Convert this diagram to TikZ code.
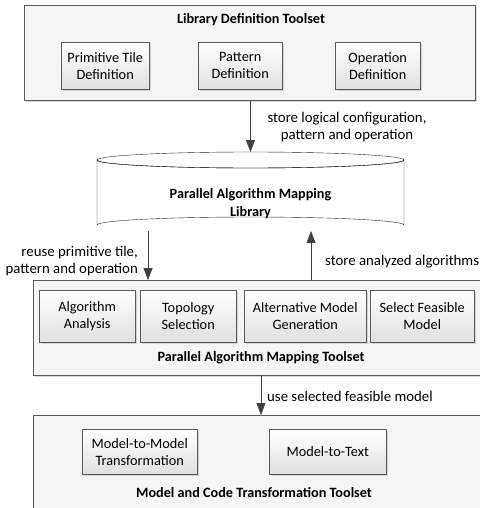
\documentclass[tikz,border=0pt]{standalone}
\usepackage{fontspec}
\setmainfont{Carlito}
\usetikzlibrary{positioning,shadows,arrows.meta}

\tikzset{
  toolset/.style={draw=black!65, fill=black!4, anchor=north west, inner sep=0pt,
    drop shadow={shadow xshift=1.5pt, shadow yshift=-1.5pt, fill=black!30}},
  toolbox/.style={draw=black!65, top color=white, bottom color=black!12, anchor=north west,
    inner sep=0pt, align=center, font=\fontsize{14.3}{17}\selectfont,
    drop shadow={shadow xshift=1.5pt, shadow yshift=-1.5pt, fill=black!30}},
  title/.style={font=\fontsize{14.2}{18}\selectfont\bfseries, align=center},
  note/.style={font=\fontsize{14.8}{17}\selectfont, align=center, inner sep=1pt},
  flow/.style={draw=black!75, -{Triangle[length=12pt,width=9pt]}}
}

\begin{document}
\begin{tikzpicture}[x=1pt,y=-1pt]
\useasboundingbox (0,0) rectangle (479,508);

% library definition toolset
\node[toolset, minimum width=451pt, minimum height=95pt] (libdef) at (24,5) {};
\node[title] (libdeftitle) at (251,20) {Library Definition Toolset};
\node[toolbox, minimum width=88pt, minimum height=47pt] (tiledef) at (61,42) {Primitive Tile\\Definition};
\node[toolbox, minimum width=84pt, minimum height=47pt] (patdef) at (198,42) {Pattern\\Definition};
\node[toolbox, minimum width=85pt, minimum height=47pt] (opdef) at (335,42) {Operation\\Definition};

% library (cylinder)
\coordinate (libtop) at (250.5,152);
\coordinate (reusept) at (148,231);
\coordinate (storept) at (311,231);
\draw[black!85, fill=white] (97,160) -- (97,225) arc[start angle=180, end angle=360, x radius=153.5, y radius=8]
  -- (404,160) arc[start angle=0, end angle=180, x radius=153.5, y radius=8] -- cycle;
\draw[black!85] (250.5,160) ellipse[x radius=153.5, y radius=8];
\node[title] (lib) at (250.5,204) {Parallel Algorithm Mapping\\Library};

% parallel algorithm mapping toolset
\node[toolset, minimum width=460pt, minimum height=95pt] (mapset) at (33,280) {};
\node[toolbox, minimum width=96pt, minimum height=52pt] (analysis) at (39,290) {Algorithm\\Analysis};
\node[toolbox, minimum width=96pt, minimum height=52pt] (topo) at (140,290) {Topology\\Selection};
\node[toolbox, minimum width=122pt, minimum height=52pt] (altgen) at (244,290) {Alternative Model\\Generation};
\node[toolbox, minimum width=104pt, minimum height=52pt] (select) at (370,290) {Select Feasible\\Model};
\node[title] (mapsettitle) at (261,358) {Parallel Algorithm Mapping Toolset};

% model and code transformation toolset
\coordinate (usept) at (261,395);
\node[toolset, minimum width=460pt, minimum height=110pt] (trans) at (33,415) {};
\node[toolbox, minimum width=115pt, minimum height=45pt] (m2m) at (82,429) {Model-to-Model\\Transformation};
\node[toolbox, minimum width=117pt, minimum height=45pt] (m2t) at (269,429) {Model-to-Text};
\node[title] (transtitle) at (254,493) {Model and Code Transformation Toolset};

% connectors
\draw[flow] (libdef.south -| libtop) -- (libtop);
\draw[flow] (reusept) -- (reusept |- mapset.north);
\draw[flow] (storept |- mapset.north) -- (storept);
\draw[flow] (usept |- mapset.south) -- (usept |- trans.north);

\node[note] (storelbl) at (347,127) {store logical configuration,\\pattern and operation};
\node[note, anchor=east, align=right] (reuselbl) at (139,261) {reuse primitive tile,\\pattern and operation};
\node[note, anchor=west] (analyzedlbl) at (324,262) {store analyzed algorithms};
\node[note, anchor=west] (uselbl) at (266,396) {use selected feasible model};
\end{tikzpicture}
\end{document}
